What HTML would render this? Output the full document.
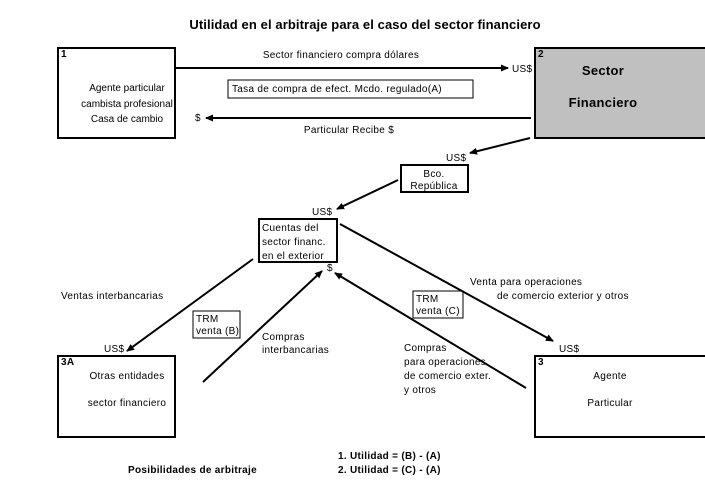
<!DOCTYPE html>
<html><head><meta charset="utf-8"><style>
body{margin:0;background:#fff;}
svg{display:block;font-family:"Liberation Sans",Arial,sans-serif;font-size:10px;letter-spacing:0.3px;}
</style></head><body>
<svg width="705" height="495" viewBox="0 0 705 495" xmlns="http://www.w3.org/2000/svg">
<defs><marker id="a" markerWidth="8" markerHeight="8" refX="7" refY="4" orient="auto" markerUnits="userSpaceOnUse"><path d="M0,0.5 L8,4 L0,7.5 Z" fill="#000"/></marker></defs>
<text x="365" y="29" text-anchor="middle" font-size="13" font-weight="bold" letter-spacing="0.1">Utilidad en el arbitraje para el caso del sector financiero</text>
<g fill="none" stroke="#000" stroke-width="2">
<rect x="58" y="48" width="117" height="90" fill="#fff"/>
<rect x="535" y="48" width="172" height="90" fill="#c0c0c0"/>
<rect x="401" y="165" width="67" height="27"/>
<rect x="259" y="219" width="78" height="43"/>
<rect x="58" y="356" width="117" height="81"/>
<rect x="535" y="356" width="172" height="81"/>
</g>
<g fill="none" stroke="#000" stroke-width="1">
<rect x="228" y="80" width="245" height="18"/>
<rect x="193" y="311" width="47" height="27"/>
<rect x="413" y="291" width="50" height="27"/>
</g>
<g stroke="#000" stroke-width="2" marker-end="url(#a)">
<line x1="175" y1="68" x2="508" y2="68"/>
<line x1="531" y1="118" x2="206" y2="118"/>
<line x1="530" y1="138" x2="470" y2="153"/>
<line x1="398" y1="180" x2="337" y2="209"/>
<line x1="253" y1="259" x2="127" y2="351"/>
<line x1="340" y1="224" x2="553" y2="341"/>
<line x1="203" y1="382" x2="322" y2="271"/>
<line x1="526" y1="388" x2="335" y2="273"/>
</g>
<text x="61" y="57" font-weight="bold">1</text>
<text x="538" y="57" font-weight="bold">2</text>
<text x="61" y="365" font-weight="bold">3A</text>
<text x="538" y="365" font-weight="bold">3</text>
<g text-anchor="middle">
<g letter-spacing="0">
<text x="127" y="91">Agente particular</text>
<text x="127" y="107">cambista profesional</text>
<text x="127" y="122">Casa de cambio</text>
</g>
<text x="603" y="75" font-size="13" font-weight="bold">Sector</text>
<text x="603" y="107" font-size="13" font-weight="bold">Financiero</text>
<text x="434" y="177">Bco.</text>
<text x="434" y="189">República</text>
<text x="127" y="379">Otras entidades</text>
<text x="127" y="406">sector financiero</text>
<text x="610" y="379">Agente</text>
<text x="610" y="406">Particular</text>
<text x="341" y="58">Sector financiero compra dólares</text>
<text x="349" y="133">Particular Recibe $</text>
</g>
<text x="232" y="92">Tasa de compra de efect. Mcdo. regulado(A)</text>
<text x="512" y="72">US$</text>
<text x="195" y="121">$</text>
<text x="446" y="161">US$</text>
<text x="312" y="215">US$</text>
<text x="262" y="231">Cuentas del</text>
<text x="262" y="245">sector financ.</text>
<text x="262" y="259">en el exterior</text>
<text x="327" y="271">$</text>
<text x="61" y="299">Ventas interbancarias</text>
<text x="196" y="322">TRM</text>
<text x="196" y="334">venta (B)</text>
<text x="416" y="302">TRM</text>
<text x="416" y="314">venta (C)</text>
<text x="262" y="340">Compras</text>
<text x="262" y="353">interbancarias</text>
<text x="404" y="351">Compras</text>
<text x="404" y="365">para operaciones</text>
<text x="404" y="379">de comercio exter.</text>
<text x="404" y="393">y otros</text>
<text x="470" y="285">Venta para operaciones</text>
<text x="497" y="299">de comercio exterior y otros</text>
<text x="104" y="352">US$</text>
<text x="559" y="352">US$</text>
<g font-weight="bold">
<text x="128" y="473">Posibilidades de arbitraje</text>
<text x="338" y="459">1. Utilidad = (B) - (A)</text>
<text x="338" y="473">2. Utilidad = (C) - (A)</text>
</g>
</svg>
</body></html>
